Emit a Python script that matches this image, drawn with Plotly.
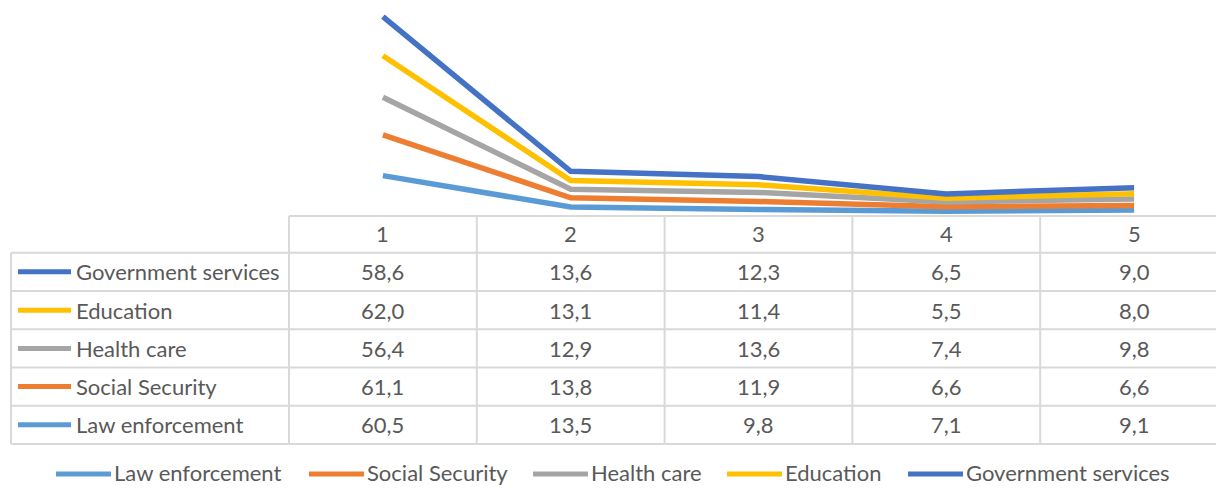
import plotly.graph_objects as go

W, H = 1216, 488

categories = ["1", "2", "3", "4", "5"]
series_names = ["Law enforcement", "Social Security", "Health care", "Education", "Government services"]
law_enforcement = [60.5, 13.5, 9.8, 7.1, 9.1]
social_security = [61.1, 13.8, 11.9, 6.6, 6.6]
health_care = [56.4, 12.9, 13.6, 7.4, 9.8]
education = [62.0, 13.1, 11.4, 5.5, 8.0]
government_services = [58.6, 13.6, 12.3, 6.5, 9.0]
values = [law_enforcement, social_security, health_care, education, government_services]
colors = ["#5B9BD5", "#ED7D31", "#A5A5A5", "#FFC000", "#4472C4"]

FONT = "Lato"
TXT = "#595959"
GRID = "#D9D9D9"
FS = 22

x0px = 289.0
colw = 187.8
base_px = 216.0
top_px = 16.7
xs = [1, 2, 3, 4, 5]

fig = go.Figure()
for name, vals, col in zip(series_names, values, colors):
    fig.add_trace(go.Scatter(
        x=xs, y=vals, name=name, mode="lines", stackgroup="one", fill="none",
        line=dict(color=col, width=5.5), showlegend=False, hoverinfo="x+y+name"))

total0 = sum(v[0] for v in values)
scale = (base_px - top_px) / total0  # px per unit
ymax = base_px / scale

def px(x):
    return x / W

def py(y):
    return 1 - y / H

shapes = []
annotations = []
# table geometry
row_y = [216.0, 252.7, 291.0, 329.3, 367.5, 405.7, 444.0]
col_x = [x0px + i * colw for i in range(6)]
left_x = 11.0
line = dict(color=GRID, width=2)
# horizontal lines
shapes.append(dict(type="line", xref="paper", yref="paper", x0=px(col_x[0]), x1=1.0,
                   y0=py(row_y[0]), y1=py(row_y[0]), line=line, layer="below"))
for y in row_y[1:]:
    shapes.append(dict(type="line", xref="paper", yref="paper", x0=px(left_x), x1=1.0,
                       y0=py(y), y1=py(y), line=line, layer="below"))
# vertical lines
shapes.append(dict(type="line", xref="paper", yref="paper", x0=px(left_x), x1=px(left_x),
                   y0=py(row_y[1]), y1=py(row_y[-1]), line=line, layer="below"))
for x in col_x[:5]:
    shapes.append(dict(type="line", xref="paper", yref="paper", x0=px(x), x1=px(x),
                       y0=py(row_y[0]), y1=py(row_y[-1]), line=line, layer="below"))

# header
for i, c in enumerate(categories):
    annotations.append(dict(x=px(col_x[i] + colw / 2), y=py((row_y[0] + row_y[1]) / 2 - 1),
                            xref="paper", yref="paper", text=c, showarrow=False,
                            font=dict(family=FONT, size=FS, color=TXT), xanchor="center", yanchor="middle"))

# rows (top to bottom: reversed series)
order = list(range(len(series_names)))[::-1]
for r, si in enumerate(order):
    yc = (row_y[r + 1] + row_y[r + 2]) / 2
    shapes.append(dict(type="line", xref="paper", yref="paper", x0=px(18), x1=px(71),
                       y0=py(yc), y1=py(yc), line=dict(color=colors[si], width=5)))
    annotations.append(dict(x=px(74), y=py(yc), xref="paper", yref="paper", text=series_names[si],
                            showarrow=False, font=dict(family=FONT, size=FS, color=TXT),
                            xanchor="left", yanchor="middle"))
    for i, v in enumerate(values[si]):
        annotations.append(dict(x=px(col_x[i] + colw / 2), y=py(yc), xref="paper", yref="paper",
                                text=f"{v:.1f}".replace(".", ","), showarrow=False,
                                font=dict(family=FONT, size=FS, color=TXT),
                                xanchor="center", yanchor="middle"))

# bottom legend
leg_key_x = [56, 309, 533, 727, 908]
leg_y = 472
for i, name in enumerate(series_names):
    kx = leg_key_x[i]
    shapes.append(dict(type="line", xref="paper", yref="paper", x0=px(kx), x1=px(kx + 55),
                       y0=py(leg_y + 2), y1=py(leg_y + 2), line=dict(color=colors[i], width=5)))
    annotations.append(dict(x=px(kx + 56), y=py(leg_y), xref="paper", yref="paper", text=name,
                            showarrow=False, font=dict(family=FONT, size=FS, color=TXT),
                            xanchor="left", yanchor="middle"))

fig.update_layout(
    width=W, height=H, margin=dict(l=0, r=0, t=0, b=0),
    paper_bgcolor="white", plot_bgcolor="white",
    xaxis=dict(domain=[px(x0px), 1.0], range=[0.5, 0.5 + (W - x0px) / colw],
               showgrid=False, zeroline=False, showticklabels=False, showline=False, fixedrange=True),
    yaxis=dict(domain=[py(base_px), 1.0], range=[0, ymax],
               showgrid=False, zeroline=False, showticklabels=False, showline=False, fixedrange=True),
    shapes=shapes, annotations=annotations, showlegend=False,
)

fig.write_html("out.html", config={"displayModeBar": False},
               post_script="document.body.style.margin='0';document.body.style.overflow='hidden';")
